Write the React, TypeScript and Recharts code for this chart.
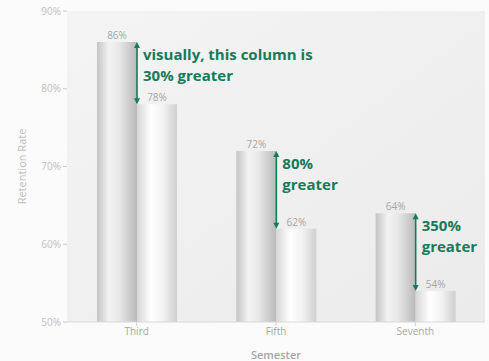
import React from "react";
import {
  BarChart,
  Bar,
  XAxis,
  YAxis,
  CartesianGrid,
  LabelList,
} from "recharts";

const semesters = ["Third", "Fifth", "Seventh"];
const firstRates = [86, 72, 64];
const secondRates = [78, 62, 54];
const yTicks = [50, 60, 70, 80, 90];
const notes = [
  ["visually, this column is", "30% greater"],
  ["80%", "greater"],
  ["350%", "greater"],
];

const data = semesters.map((s, i) => ({
  semester: s,
  first: firstRates[i],
  second: secondRates[i],
}));

const GREEN = "#167a5b";
const GRAY_TEXT = "#a6a6a6";
const BASE = 50;

// arrow between the two bar tops plus the note text beside it
function NoteLabel(props: any) {
  const { x, y, width, height, index } = props;
  const v1 = firstRates[index];
  const v2 = secondRates[index];
  const ax = x + width;
  const pxPerUnit = height / (v1 - BASE);
  const y2 = y + (v1 - v2) * pxPerUnit;
  const lines = notes[index];
  return (
    <g>
      <line x1={ax} x2={ax} y1={y + 5} y2={y2 - 5} stroke={GREEN} strokeWidth={1.6} />
      <path d={`M${ax - 3},${y + 6} L${ax},${y} L${ax + 3},${y + 6} Z`} fill={GREEN} />
      <path d={`M${ax - 3},${y2 - 6} L${ax},${y2} L${ax + 3},${y2 - 6} Z`} fill={GREEN} />
      {lines.map((t, k) => (
        <text
          key={k}
          x={ax + 6}
          y={y + 18 + k * 21}
          fill={GREEN}
          fontSize={15}
          fontWeight={700}
          fontFamily="Open Sans"
        >
          {t}
        </text>
      ))}
    </g>
  );
}

export default function App() {
  return (
    <div style={{ position: "absolute", left: 0, top: 0, background: "#fbfbfb" }}>
      <BarChart
        width={489}
        height={361}
        data={data}
        margin={{ top: 11, right: 4, left: 0, bottom: 0 }}
        barGap={0}
        barCategoryGap={30}
        style={{ fontFamily: "Open Sans" }}
      >
        <defs>
          <linearGradient id="plotBg" x1="0" y1="0" x2="1" y2="1">
            <stop offset="0%" stopColor="#f4f4f4" />
            <stop offset="100%" stopColor="#ebebeb" />
          </linearGradient>
          <linearGradient id="barA" x1="0" y1="0" x2="1" y2="0">
            <stop offset="0%" stopColor="#c4c4c4" />
            <stop offset="30%" stopColor="#f3f3f3" />
            <stop offset="55%" stopColor="#e8e8e8" />
            <stop offset="100%" stopColor="#b9b9b9" />
          </linearGradient>
          <linearGradient id="barB" x1="0" y1="0" x2="1" y2="0">
            <stop offset="0%" stopColor="#d6d6d6" />
            <stop offset="35%" stopColor="#ffffff" />
            <stop offset="65%" stopColor="#f2f2f2" />
            <stop offset="100%" stopColor="#cfcfcf" />
          </linearGradient>
        </defs>
        <CartesianGrid fill="url(#plotBg)" horizontal={false} vertical={false} />
        <XAxis
          dataKey="semester"
          height={39}
          tick={{ fontSize: 10, fill: GRAY_TEXT }}
          tickLine={{ stroke: "#d0d0d0" }}
          axisLine={{ stroke: "#d9d9d9" }}
          tickSize={4}
          label={{
            value: "Semester",
            position: "insideBottom",
            offset: 2,
            fill: GRAY_TEXT,
            fontSize: 11,
            fontWeight: 600,
          }}
        />
        <YAxis
          width={67}
          domain={[50, 90]}
          ticks={yTicks}
          tickFormatter={(v: number) => `${v}%`}
          tick={{ fontSize: 10, fill: "#c0c0c0" }}
          tickLine={{ stroke: "#c8c8c8" }}
          tickSize={4}
          axisLine={false}
          label={{
            value: "Retention Rate",
            angle: -90,
            position: "insideLeft",
            offset: 22,
            fill: "#c0c0c0",
            fontSize: 11,
            style: { textAnchor: "middle" },
          }}
        />
        <Bar dataKey="first" fill="url(#barA)" barSize={40} isAnimationActive={false}>
          <LabelList
            dataKey="first"
            position="top"
            formatter={(v: any) => `${v}%`}
            fill={GRAY_TEXT}
            fontSize={10}
            offset={3}
          />
          <LabelList dataKey="first" content={NoteLabel} />
        </Bar>
        <Bar dataKey="second" fill="url(#barB)" barSize={40} isAnimationActive={false}>
          <LabelList
            dataKey="second"
            position="top"
            formatter={(v: any) => `${v}%`}
            fill={GRAY_TEXT}
            fontSize={10}
            offset={3}
          />
        </Bar>
      </BarChart>
    </div>
  );
}
